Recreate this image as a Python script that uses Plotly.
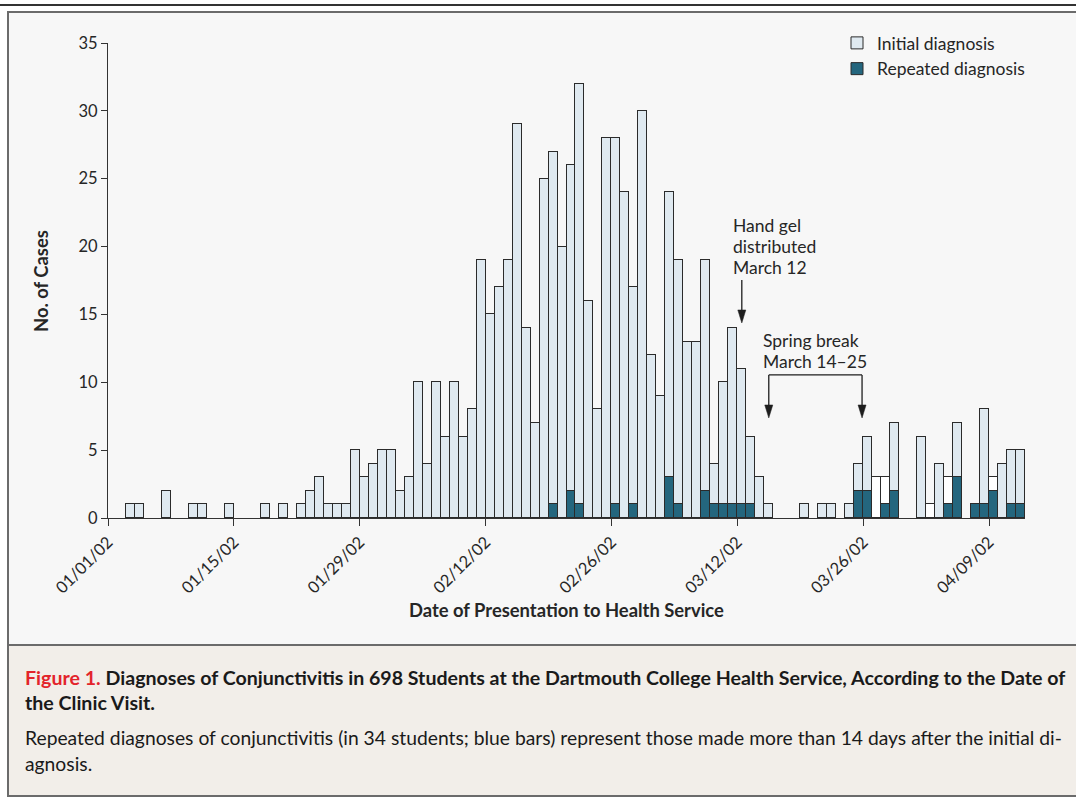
import datetime as dt
import plotly.graph_objects as go

# ---------------- data ----------------
start = dt.date(2002, 1, 1)
# day offsets from 01/01/02 that have cases
day_index = [2, 3, 6, 9, 10, 13, 17, 19, 21, 22, 23, 24, 25, 26, 27, 28, 29, 30, 31, 32,
             33, 34, 35, 36, 37, 38, 39, 40, 41, 42, 43, 44, 45, 46, 47, 48, 49, 50, 51, 52,
             53, 54, 55, 56, 57, 58, 59, 60, 61, 62, 63, 64, 65, 66, 67, 68, 69, 70, 71, 72,
             73, 77, 79, 80, 82, 83, 84, 85, 86, 87, 90, 91, 92, 93, 94, 96, 97, 98, 99, 100, 101]
total_cases = [1, 1, 2, 1, 1, 1, 1, 1, 1, 2, 3, 1, 1, 1, 5, 3, 4, 5, 5, 2,
               3, 10, 4, 10, 6, 10, 6, 8, 19, 15, 17, 19, 29, 14, 7, 25, 27, 20, 26, 32,
               16, 8, 28, 28, 24, 17, 30, 12, 9, 24, 19, 13, 13, 19, 4, 10, 14, 11, 6, 3,
               1, 1, 1, 1, 1, 4, 6, 3, 3, 7, 6, 1, 4, 3, 7, 1, 8, 3, 4, 5, 5]
repeated_cases = [0, 0, 0, 0, 0, 0, 0, 0, 0, 0, 0, 0, 0, 0, 0, 0, 0, 0, 0, 0,
                  0, 0, 0, 0, 0, 0, 0, 0, 0, 0, 0, 0, 0, 0, 0, 0, 1, 0, 2, 1,
                  0, 0, 0, 1, 0, 1, 0, 0, 0, 3, 1, 0, 0, 2, 1, 1, 1, 1, 1, 0,
                  0, 0, 0, 0, 0, 2, 2, 0, 1, 2, 0, 0, 0, 1, 3, 1, 1, 2, 0, 1, 1]
# days whose "initial" part is drawn unfilled (white) in the original
white_days = [85, 86, 91, 93, 98]

tick_dates = ["2002-01-01", "2002-01-15", "2002-01-29", "2002-02-12",
              "2002-02-26", "2002-03-12", "2002-03-26", "2002-04-09"]
tick_labels = ["01/01/02", "01/15/02", "01/29/02", "02/12/02",
               "02/26/02", "03/12/02", "03/26/02", "04/09/02"]

# ---------------- styling ----------------
W, H = 1076, 798
ML, MR, MT, MB = 108, 51, 43, 280
PW, PH = W - ML - MR, H - MT - MB
FONT = "Lato"
LIGHT = "#dfe9f0"
DARK = "#24667e"
EDGE = "#2b2b2b"
TXT = "#262626"


def pxx(x):
    return (x - ML) / PW


def pxy(y):
    return (H - MB - y) / PH


bar_x = [(dt.datetime.combine(start, dt.time(12)) + dt.timedelta(days=d)) for d in day_index]
initial_vals = [t - r if t - r > 0 else None for t, r in zip(total_cases, repeated_cases)]
repeated_vals = [r if r > 0 else None for r in repeated_cases]
initial_colors = ["#ffffff" if d in white_days else LIGHT for d in day_index]
DAY_MS = 86400000

fig = go.Figure()
fig.add_trace(go.Bar(
    x=bar_x, y=repeated_vals, name="Repeated diagnosis", width=DAY_MS,
    marker=dict(color=DARK, line=dict(color=EDGE, width=1)),
    legendrank=2, hoverinfo="x+y"))
fig.add_trace(go.Bar(
    x=bar_x, y=initial_vals, name="Initial diagnosis", width=DAY_MS,
    marker=dict(color=initial_colors, line=dict(color=EDGE, width=1)),
    legendrank=1, hoverinfo="x+y"))

shapes = [
    # top rule
    dict(type="line", xref="paper", yref="paper", x0=pxx(0), x1=pxx(W), y0=pxy(5), y1=pxy(5),
         line=dict(color="#333333", width=2), layer="below"),
    # chart panel
    dict(type="rect", xref="paper", yref="paper", x0=pxx(8), x1=pxx(W + 10), y0=pxy(645), y1=pxy(12),
         fillcolor="#f7f7f7", line=dict(color="#6b6b6b", width=2), layer="below"),
    # caption panel
    dict(type="rect", xref="paper", yref="paper", x0=pxx(8), x1=pxx(W + 10), y0=pxy(796), y1=pxy(645),
         fillcolor="#f2eee9", line=dict(color="#6b6b6b", width=2), layer="below"),
]

# annotation arrows (shaft lines in data coords + pixel-sized heads)
hand_x = "2002-03-12 12:00"
sb_left = "2002-03-15 12:00"
sb_right = "2002-03-25 21:00"
hand_top, hand_tip = 17.54, 14.37
sb_top, sb_tip = 10.54, 7.37
ARW = "#1e1e1e"
for x, y0, y1 in [(hand_x, hand_top, hand_tip), (sb_left, sb_top, sb_tip), (sb_right, sb_top, sb_tip)]:
    shapes.append(dict(type="line", xref="x", yref="y", x0=x, x1=x, y0=y0, y1=y1 + 0.6,
                       line=dict(color=ARW, width=1.3)))
    shapes.append(dict(type="path", xref="x", yref="y", xsizemode="pixel", ysizemode="pixel",
                       xanchor=x, yanchor=y1, path="M-4,13L4,13L0,0Z",
                       fillcolor=ARW, line=dict(color=ARW, width=0.5)))
shapes.append(dict(type="line", xref="x", yref="y", x0=sb_left, x1=sb_right, y0=sb_top, y1=sb_top,
                   line=dict(color=ARW, width=1.3)))

ann = []
note_font = dict(family=FONT, size=17.5, color=TXT)
for txt, yy in [("Hand gel", 225), ("distributed", 246), ("March 12", 267)]:
    ann.append(dict(text=txt, xref="paper", yref="paper", x=pxx(731), y=pxy(yy),
                    xanchor="left", yanchor="middle", showarrow=False, font=note_font))
for txt, yy in [("Spring break", 340), ("March 14\u201325", 361)]:
    ann.append(dict(text=txt, xref="paper", yref="paper", x=pxx(761), y=pxy(yy),
                    xanchor="left", yanchor="middle", showarrow=False, font=note_font))
# axis titles
ann.append(dict(text="<b>Date of Presentation to Health Service</b>", xref="paper", yref="paper",
                x=pxx(566), y=pxy(610), xanchor="center", yanchor="middle", showarrow=False,
                font=dict(family=FONT, size=18.4, color=TXT)))
ann.append(dict(text="<b>No. of Cases</b>", xref="paper", yref="paper", textangle=-90,
                x=pxx(41), y=pxy(281), xanchor="center", yanchor="middle", showarrow=False,
                font=dict(family=FONT, size=18.4, color=TXT)))
# caption
bold_font = dict(family=FONT, size=19.6, color="#1a1a1a")
reg_font = dict(family=FONT, size=19.3, color="#1a1a1a")
ann.append(dict(text="<b><span style='color:#e3242b'>Figure 1.</span> Diagnoses of Conjunctivitis in 698 "
                     "Students at the Dartmouth College Health Service, According to the Date of</b>",
                xref="paper", yref="paper", x=pxx(23), y=pxy(677), xanchor="left", yanchor="middle",
                showarrow=False, font=bold_font))
ann.append(dict(text="<b>the Clinic Visit.</b>", xref="paper", yref="paper", x=pxx(23), y=pxy(702),
                xanchor="left", yanchor="middle", showarrow=False, font=bold_font))
ann.append(dict(text="Repeated diagnoses of conjunctivitis (in 34 students; blue bars) represent those "
                     "made more than 14 days after the initial di-",
                xref="paper", yref="paper", x=pxx(23), y=pxy(737), xanchor="left", yanchor="middle",
                showarrow=False, font=reg_font))
ann.append(dict(text="agnosis.", xref="paper", yref="paper", x=pxx(23), y=pxy(763),
                xanchor="left", yanchor="middle", showarrow=False, font=reg_font))

fig.update_layout(
    width=W, height=H, autosize=False,
    margin=dict(l=ML, r=MR, t=MT, b=MB, pad=0),
    paper_bgcolor="#ffffff", plot_bgcolor="rgba(0,0,0,0)",
    barmode="stack", bargap=0,
    font=dict(family=FONT, size=16, color=TXT),
    shapes=shapes, annotations=ann,
    showlegend=True,
    legend=dict(x=pxx(837), y=pxy(25), xanchor="left", yanchor="top",
                traceorder="normal",
                bgcolor="rgba(0,0,0,0)", font=dict(family=FONT, size=17.5, color=TXT)),
    xaxis=dict(type="date", range=["2002-01-01", "2002-04-13"],
               tickmode="array", tickvals=tick_dates, ticktext=tick_labels, tickangle=-45,
               ticks="outside", ticklen=7, tickcolor="#333333", tickwidth=1,
               showline=True, linecolor="#333333", linewidth=1, showgrid=False, zeroline=False,
               tickfont=dict(family=FONT, size=16.5, color=TXT)),
    yaxis=dict(range=[0, 35], tickmode="linear", tick0=0, dtick=5,
               ticks="outside", ticklen=6, tickcolor="#333333", tickwidth=1,
               showline=True, linecolor="#333333", linewidth=1, showgrid=False, zeroline=False,
               tickfont=dict(family=FONT, size=16.5, color=TXT)),
)

fig.write_html("out.html", config={"displayModeBar": False},
               post_script="document.body.style.margin='0';")
